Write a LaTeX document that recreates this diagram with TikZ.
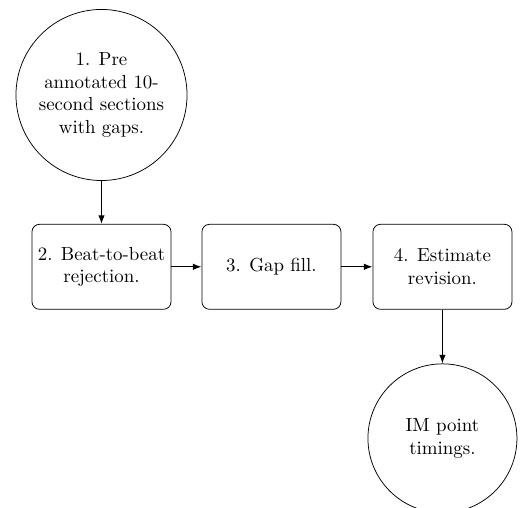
\documentclass[tikz,border=0pt]{standalone}
\usepackage{tikz}
\usetikzlibrary{arrows.meta, positioning}

\begin{document}
\begin{tikzpicture}[
    node distance=0.8cm and 0.56cm,
    stagecircle/.style={
        circle, draw, minimum size=3.18cm,
        align=center, inner sep=2pt
    },
    endcircle/.style={
        circle, draw, minimum size=2.77cm,
        align=center, inner sep=2pt
    },
    box/.style={
        rectangle, draw, rounded corners,
        minimum width=2.585cm, minimum height=1.58cm,
        align=center, inner sep=3pt
    },
    arrow/.style={-{Latex[length=1.6mm,width=1.2mm]},semithick}
]

% fixed frame
\useasboundingbox (-1.887,1.766) rectangle (7.873,-7.678);

% Input
\node[stagecircle] (sections) {1. Pre\\annotated 10-\\second sections\\with gaps.};

% Processing row
\node[box, below=of sections]         (reject)   {2. Beat-to-beat\\rejection.};
\node[box, right=of reject]           (gapfill)  {3. Gap fill.};
\node[box, right=0.58cm of gapfill]   (revision) {4. Estimate\\revision.};

% Output
\node[endcircle, below=1.0cm of revision] (timings) {IM point\\timings.};

% Arrows
\draw[arrow] (sections) -- (reject);
\draw[arrow] (reject)   -- (gapfill);
\draw[arrow] (gapfill)  -- (revision);
\draw[arrow] (revision) -- (timings);

\end{tikzpicture}
\end{document}
